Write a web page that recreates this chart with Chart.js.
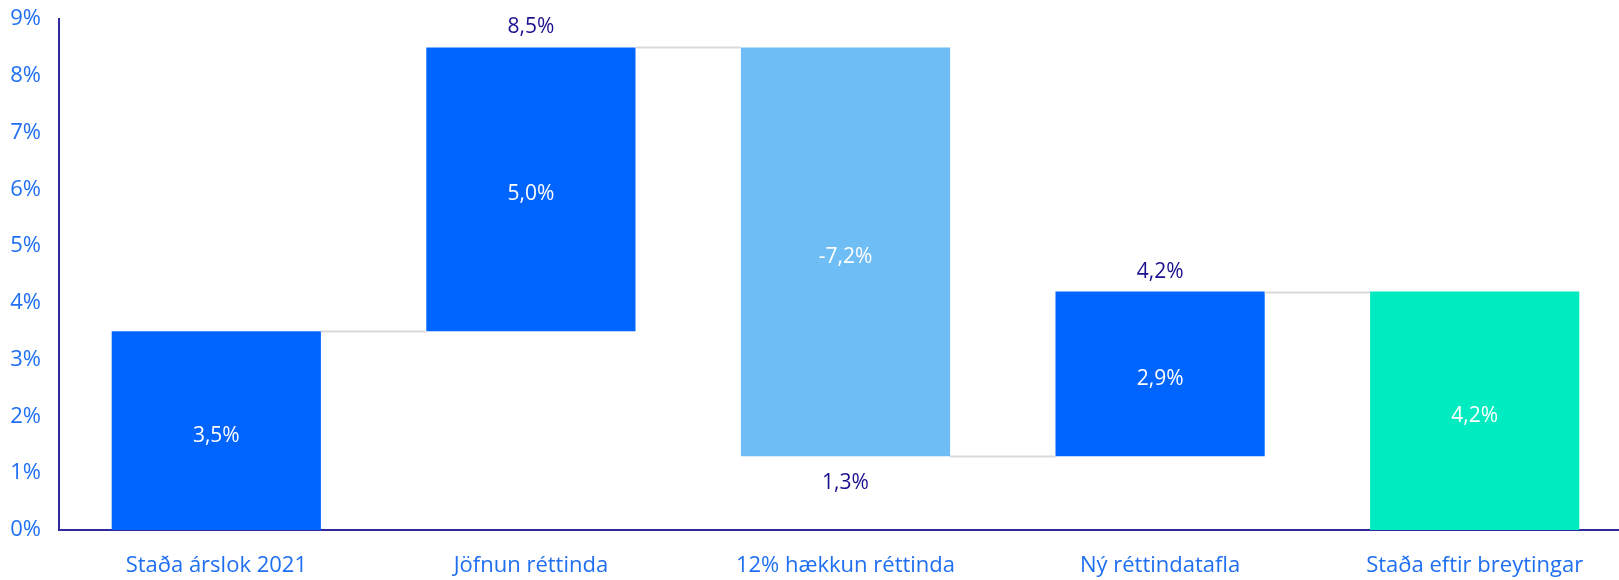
<!DOCTYPE html>
<html>
<head>
<meta charset="utf-8">
<script src="https://cdn.jsdelivr.net/npm/chart.js@4"></script>
<style>
  html, body { margin: 0; padding: 0; background: #fff; overflow: hidden; }
  #wrap { position: relative; width: 1632px; height: 580px; }
</style>
</head>
<body>
<div id="wrap"><canvas id="waterfall"></canvas></div>
<script>
// Fossfall: breyting á stöðu
const categories = ['Staða árslok 2021', 'Jöfnun réttinda', '12% hækkun réttinda', 'Ný réttindatafla', 'Staða eftir breytingar'];
const stepValues = [3.5, 5.0, -7.2, 2.9, 4.2];
const isTotal = [true, false, false, false, true];
const yTicks = [0, 1, 2, 3, 4, 5, 6, 7, 8, 9];

const colTotal1 = '#0064ff';
const colUp = '#0064ff';
const colDown = '#6ebef5';
const colTotal2 = '#00ebbf';
const tickBlue = '#1f6ff2';
const navy = '#1a118e';
const axisCol = '#2e2a9e';
const FONT = "'Open Sans', 'Noto Sans', sans-serif";

// reikna upphaf/enda hverrar súlu
let running = 0;
const ranges = [];
const colors = [];
stepValues.forEach((v, i) => {
    if (isTotal[i]) {
        ranges.push([0, v]);
        running = v;
        colors.push(i === 0 ? colTotal1 : colTotal2);
    } else {
        const start = running;
        running = Math.round((running + v) * 10) / 10;
        ranges.push([start, running]);
        colors.push(v >= 0 ? colUp : colDown);
    }
});

const fmt = v => v.toFixed(1).replace('.', ',') + '%';

// tengilínur milli súlna
const connectorPlugin = {
    id: 'connectors',
    afterDatasetsDraw(chart) {
        const meta = chart.getDatasetMeta(0);
        const y = chart.scales.y;
        const c = chart.ctx;
        c.save();
        c.strokeStyle = '#d9d9d9';
        c.lineWidth = 2;
        for (let i = 0; i < meta.data.length - 1; i++) {
            const a = meta.data[i], b = meta.data[i + 1];
            const level = ranges[i][1];
            const py = Math.round(y.getPixelForValue(level)) + 0.5;
            c.beginPath();
            c.moveTo(a.x + a.width / 2, py);
            c.lineTo(b.x - b.width / 2, py);
            c.stroke();
        }
        c.restore();
    }
};

// gildismerki
const labelPlugin = {
    id: 'barLabels',
    afterDatasetsDraw(chart) {
        const meta = chart.getDatasetMeta(0);
        const y = chart.scales.y;
        const c = chart.ctx;
        c.save();
        c.font = '21px ' + FONT;
        c.textAlign = 'center';
        c.textBaseline = 'middle';
        meta.data.forEach((bar, i) => {
            const [s, e] = ranges[i];
            const mid = (y.getPixelForValue(s) + y.getPixelForValue(e)) / 2;
            c.fillStyle = '#ffffff';
            c.fillText(fmt(stepValues[i]), bar.x, mid + 5);
            if (!isTotal[i]) {
                c.fillStyle = navy;
                if (stepValues[i] >= 0) {
                    c.fillText(fmt(e), bar.x, y.getPixelForValue(e) - 20);
                } else {
                    c.fillText(fmt(e), bar.x, y.getPixelForValue(e) + 27);
                }
            }
        });
        c.restore();
    }
};

new Chart(document.getElementById('waterfall'), {
    type: 'bar',
    data: {
        labels: categories,
        datasets: [{
            data: ranges,
            backgroundColor: colors,
            borderWidth: 0,
            barPercentage: 0.665,
            categoryPercentage: 1
        }]
    },
    options: {
        responsive: true,
        maintainAspectRatio: false,
        animation: false,
        layout: { padding: { top: 19, right: 0, bottom: 0, left: 0 } },
        plugins: {
            legend: { display: false },
            tooltip: { enabled: false }
        },
        scales: {
            x: {
                grid: { display: false, drawTicks: false },
                border: { display: true, color: axisCol, width: 2 },
                ticks: {
                    color: tickBlue,
                    font: { family: FONT, size: 22 },
                    padding: 23,
                    maxRotation: 0
                },
                afterFit: s => { s.height = 50; }
            },
            y: {
                min: 0,
                max: 9,
                grid: { display: false, drawTicks: false },
                border: { display: true, color: axisCol, width: 2 },
                afterBuildTicks: s => { s.ticks = yTicks.map(v => ({ value: v })); },
                ticks: {
                    color: tickBlue,
                    font: { family: FONT, size: 22 },
                    padding: 18,
                    callback: v => v + '%'
                },
                afterFit: s => { s.width = 59; s.paddingTop = 0; }
            }
        }
    },
    plugins: [connectorPlugin, labelPlugin]
});
</script>
</body>
</html>
